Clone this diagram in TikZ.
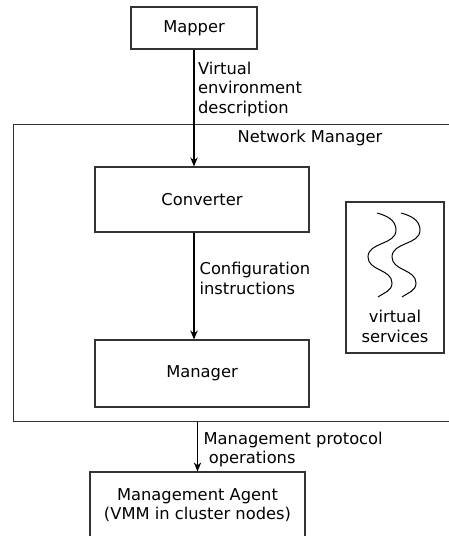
\documentclass[tikz,border=0pt]{standalone}
\usepackage{fontspec}
\setmainfont{DejaVu Sans}
\usetikzlibrary{arrows.meta,positioning,calc}

\begin{document}
\begin{tikzpicture}[%
    x=1pt, y=-1pt,
    >={Stealth[length=9pt,width=7.5pt]},
    line width=1.25pt,
    font=\fontsize{16.3}{19.5}\selectfont,
    box/.style={draw=black!80, rectangle, inner sep=0pt},
    lbl/.style={inner sep=0pt, align=left}
  ]
  \clip (0,0) rectangle (449,536);

  \node[box, minimum width=126pt, minimum height=42pt] (mapper) at (194,28) {Mapper};
  \node[box, anchor=north west, minimum width=460pt, minimum height=297pt] (netmgr) at (13,124) {};
  \node (nmlabel) at (310,138.5) {Network Manager};
  \node[box, minimum width=214pt, minimum height=65pt] (converter) at (202,199.5) {Converter};
  \node[box, minimum width=214pt, minimum height=67pt] (manager) at (202,373.5) {Manager};
  \node[box, minimum width=98pt, minimum height=151pt] (vsbox) at (395,277.5) {};
  \node[align=center, anchor=north, inner sep=0pt] (vslabel) at (395,309.5) {virtual\\services};
  \node[box, minimum width=215pt, minimum height=66pt, align=center] (agent) at (197.5,505) {Management Agent\\(VMM in cluster nodes)};

  % the two waves
  \foreach \dx in {0,24}
    \draw[line width=1pt, xshift=\dx pt] (377,213) to[out=-15,in=90] (396,230)
      to[out=-90,in=90] (368,257) to[out=-90,in=90] (392,283) to[out=-90,in=35] (378,297);

  \draw[->] (mapper.south) -- (mapper.south |- converter.north)
    node[lbl, pos=0.34, right=3.5pt] {Virtual\\environment\\description};
  \draw[->] (mapper.south |- converter.south) -- (mapper.south |- manager.north)
    node[lbl, pos=0.43, right=5pt] {Configuration\\instructions};
  \draw[->] (agent.north |- netmgr.south) -- (agent.north)
    node[lbl, pos=0.55, right=5.5pt] {Management protocol\\\ operations};

\end{tikzpicture}
\end{document}
